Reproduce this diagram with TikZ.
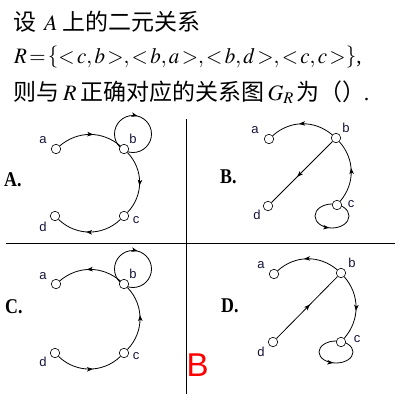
\documentclass[tikz,border=0pt]{standalone}
\usepackage{mathptmx}
\usepackage[no-math]{fontspec}
\setmainfont{Liberation Serif}
\newfontfamily\cjk[Scale=1.045]{Noto Sans CJK SC}
\newfontfamily\labfont{Liberation Sans}
\usetikzlibrary{arrows.meta,decorations.markings}
\pgfdeclarelayer{background}
\pgfsetlayers{background,main}
\definecolor{labcol}{RGB}{20,20,60}
\tikzset{
  vtx/.style={circle,draw,fill=white,inner sep=0pt,minimum size=9.5pt,line width=0.6pt},
  lab/.style={font=\labfont\fontsize{13}{15}\selectfont,text=labcol,inner sep=0pt,anchor=base},
  opt/.style={font=\fontsize{21}{24}\selectfont\bfseries,inner sep=0pt,anchor=base west},
  edge/.style={line width=0.8pt},
  mid/.style={postaction={decorate},decoration={markings,mark=at position #1 with {\arrow{>}}}},
  txt/.style={inner sep=0pt,anchor=base west,font=\fontsize{22}{26}\selectfont},
  divider/.style={line width=1pt},
  bigloop/.style={edge,mid=0.04},
  smallloop/.style={edge,mid=0.22}
}
\begin{document}
\begin{tikzpicture}[x=1pt,y=-1pt,>={Stealth[length=6pt,width=4.5pt,inset=1.5pt]}]
\useasboundingbox (0,0) rectangle (400,400);
% question text
\node[txt] (t1) at (13,30) {{\cjk 设}\hspace{8pt}$A$\hspace{5pt}{\cjk 上的二元关系}};
\node[txt] (t2) at (14,63) {\scalebox{0.953}[1]{\thickmuskip=2mu\medmuskip=1mu$R=\left\{<c,b>,<b,a>,<b,d>,<c,c>\right\}$,}};
\node[txt] (t3) at (13,100) {{\cjk 则与}\hspace{4pt}$R$\hspace{4pt}{\cjk 正确对应的关系图}\hspace{3pt}$G_R$\hspace{3pt}{\cjk 为（）}\hspace{-2pt}.};
% dividers
\coordinate (hl) at (6,243); \coordinate (hr) at (395,243);
\coordinate (vt) at (186,119); \coordinate (vb) at (186,394);
\draw[divider] (hl) -- (hr);
\draw[divider] (vt) -- (vb);
% option labels
\node[opt] (oA) at (4,186) {\scalebox{0.85}[1]{A.}};
\node[opt] (oB) at (220,183) {\scalebox{0.85}[1]{B.}};
\node[opt] (oC) at (5,313) {\scalebox{0.85}[1]{C.}};
\node[opt] (oD) at (221,312) {\scalebox{0.85}[1]{D.}};
% answer
\node[inner sep=0pt,anchor=base west,text=red,font=\labfont\fontsize{33}{36}\selectfont] (ans) at (186.5,376) {B};

% ---------- Panel A ----------
\node[vtx] (Aa) at (56,149) {};
\node[vtx] (Ab) at (124,149) {};
\node[vtx] (Ac) at (124,216) {};
\node[vtx] (Ad) at (55,216) {};
\node[lab] (Aal) at (43,143) {a};
\node[lab] (Abl) at (133,143) {b};
\node[lab] (Acl) at (136,223) {c};
\node[lab] (Adl) at (43,231) {d};
% ---------- Panel B ----------
\node[vtx] (Ba) at (269,139) {};
\node[vtx] (Bb) at (336,138) {};
\node[vtx] (Bc) at (337,205) {};
\node[vtx] (Bd) at (268,206) {};
\node[lab] (Bal) at (255,133) {a};
\node[lab] (Bbl) at (346,132) {b};
\node[lab] (Bcl) at (351,207) {c};
\node[lab] (Bdl) at (257,219) {d};
% ---------- Panel C ----------
\node[vtx] (Ca) at (56,284) {};
\node[vtx] (Cb) at (124,284) {};
\node[vtx] (Cc) at (124,353) {};
\node[vtx] (Cd) at (55,353) {};
\node[lab] (Cal) at (43,279) {a};
\node[lab] (Cbl) at (133,278) {b};
\node[lab] (Ccl) at (136,359) {c};
\node[lab] (Cdl) at (43,366) {d};
% ---------- Panel D ----------
\node[vtx] (Da) at (274,274) {};
\node[vtx] (Db) at (341,273) {};
\node[vtx] (Dc) at (341,342) {};
\node[vtx] (Dd) at (273,342) {};
\node[lab] (Dal) at (261,268) {a};
\node[lab] (Dbl) at (352,267) {b};
\node[lab] (Dcl) at (357,342) {c};
\node[lab] (Ddl) at (261,356) {d};

% loop centres
\coordinate (Alc) at ([shift={(9,-15)}]Ab.center);
\coordinate (Clc) at ([shift={(9,-15)}]Cb.center);
\coordinate (Blc) at ([shift={(-5,11)}]Bc.center);
\coordinate (Dlc) at ([shift={(-5,10)}]Dc.center);

\begin{pgfonlayer}{background}
% Panel A
\draw[edge,mid=0.55] (Aa) to[bend left=40] (Ab);
\draw[edge,mid=0.55] (Ab) to[bend left=44] (Ac);
\draw[edge,mid=0.55] (Ac) to[bend left=44] (Ad);
\draw[bigloop] (Alc) ++(0,-18.5)
  .. controls +(10.2,0) and +(0,-10.2) .. ++(18.5,18.5)
  .. controls +(0,10.2) and +(10.2,0) .. ++(-18.5,18.5)
  .. controls +(-10.2,0) and +(0,10.2) .. ++(-18.5,-18.5)
  .. controls +(0,-10.2) and +(-10.2,0) .. ++(18.5,-18.5);
% Panel B
\draw[edge,mid=0.55] (Bb) to[bend right=41] (Ba);
\draw[edge,mid=0.55] (Bc) to[bend right=41] (Bb);
\draw[edge,mid=0.58] (Bb) -- (Bd);
\draw[smallloop] (Blc) ++(-17,0)
  .. controls +(0,6.6) and +(-9.4,0) .. ++(17,12)
  .. controls +(9.4,0) and +(0,6.6) .. ++(17,-12)
  .. controls +(0,-6.6) and +(9.4,0) .. ++(-17,-12)
  .. controls +(-9.4,0) and +(0,-6.6) .. ++(-17,12);
% Panel C
\draw[edge,mid=0.55] (Cb) to[bend right=40] (Ca);
\draw[edge,mid=0.55] (Cc) to[bend right=44] (Cb);
\draw[edge,mid=0.55] (Cd) to[bend right=44] (Cc);
\draw[bigloop] (Clc) ++(0,-18.5)
  .. controls +(10.2,0) and +(0,-10.2) .. ++(18.5,18.5)
  .. controls +(0,10.2) and +(10.2,0) .. ++(-18.5,18.5)
  .. controls +(-10.2,0) and +(0,10.2) .. ++(-18.5,-18.5)
  .. controls +(0,-10.2) and +(-10.2,0) .. ++(18.5,-18.5);
% Panel D
\draw[edge,mid=0.55] (Db) to[bend right=41] (Da);
\draw[edge,mid=0.55] (Db) to[bend left=41] (Dc);
\draw[edge,mid=0.55] (Dd) -- (Db);
\draw[smallloop] (Dlc) ++(-17,0)
  .. controls +(0,6.1) and +(-9.4,0) .. ++(17,11)
  .. controls +(9.4,0) and +(0,6.1) .. ++(17,-11)
  .. controls +(0,-6.1) and +(9.4,0) .. ++(-17,-11)
  .. controls +(-9.4,0) and +(0,-6.1) .. ++(-17,11);
\end{pgfonlayer}
\end{tikzpicture}
\end{document}
